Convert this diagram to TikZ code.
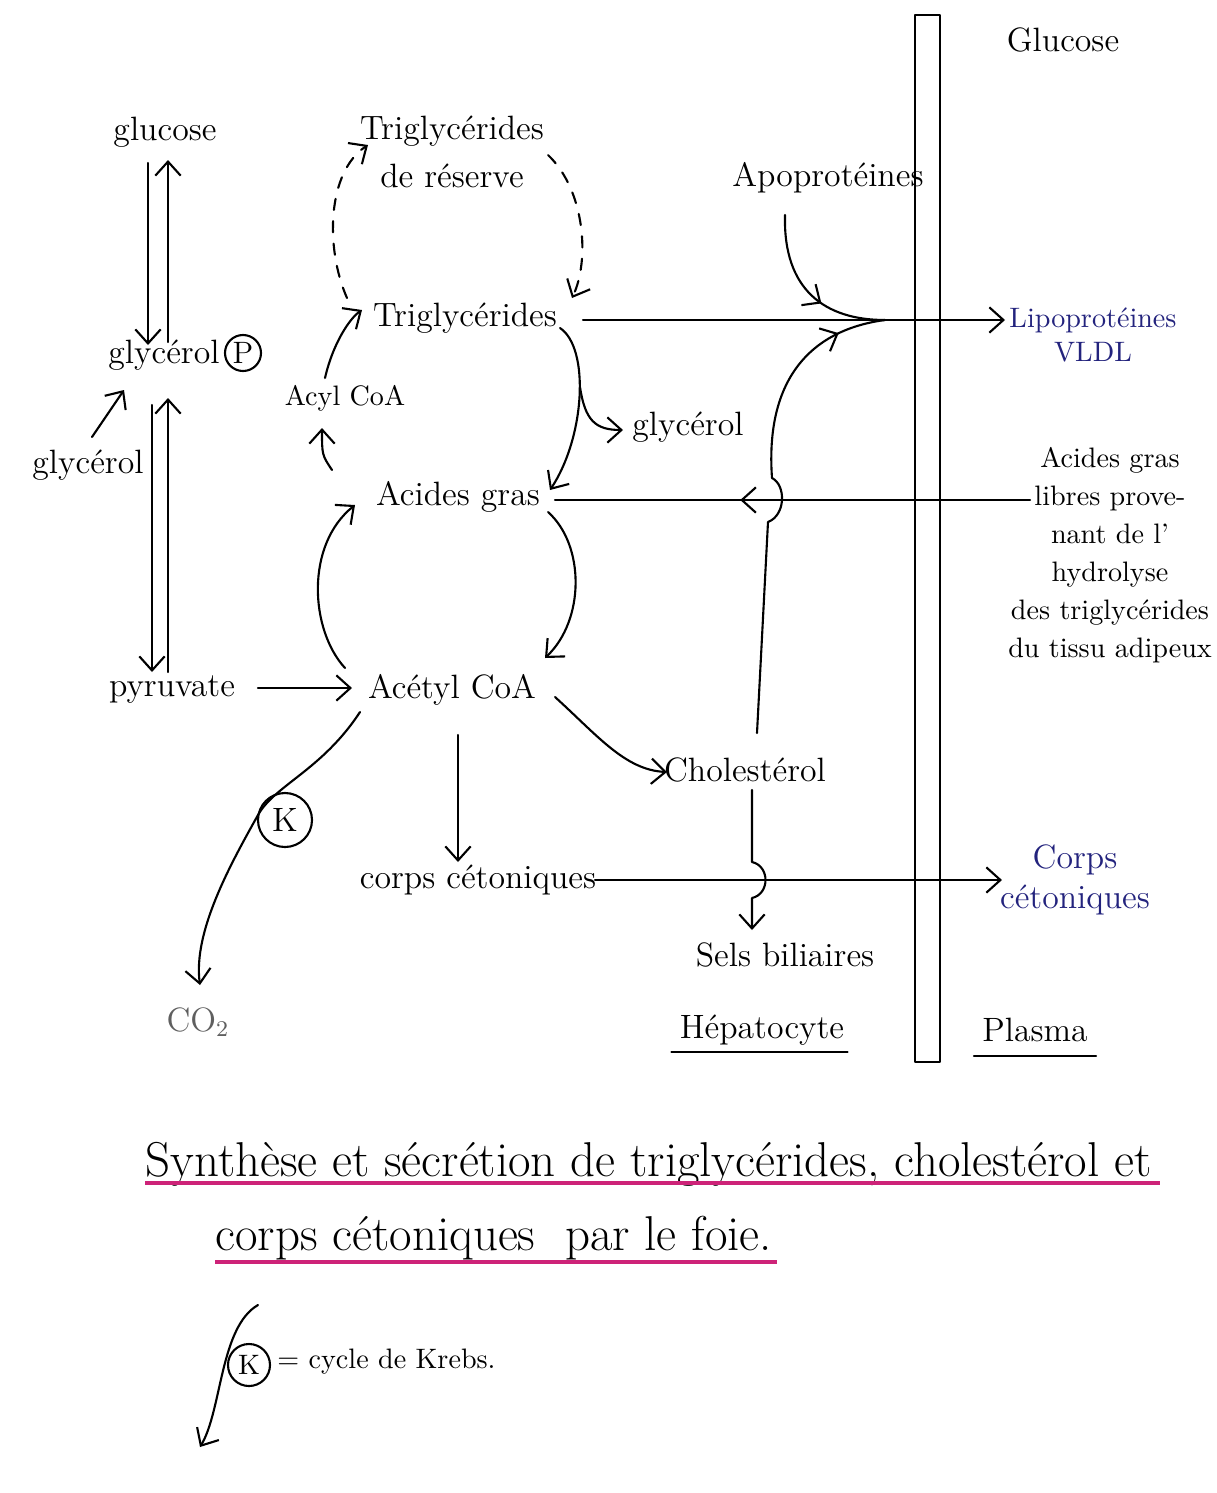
\documentclass[tikz,border=0pt]{standalone}
\usepackage{fontspec}
\usetikzlibrary{arrows.meta,calc,decorations.markings}
\definecolor{inkblue}{RGB}{35,35,125}
\definecolor{pencil}{RGB}{95,95,95}
\definecolor{marker}{RGB}{205,35,120}
\tikzset{
  ink/.style={line width=0.75pt, line cap=round, line join=round},
  arr/.style={ink, -{Straight Barb[length=5pt,width=9pt]}},
  lbl/.style={inner sep=1pt, font=\fontsize{12}{14}\selectfont},
  small/.style={inner sep=1pt, font=\fontsize{10}{12}\selectfont},
  titletext/.style={inner sep=0pt, font=\fontsize{17.4}{19}\selectfont},
  circ/.style={draw, circle, ink, inner sep=0pt},
  dashlink/.style={arr, dash pattern=on 4pt off 4pt},
  midarrow/.style={postaction={decorate}, decoration={markings,
      mark=at position #1 with {\arrow{Straight Barb[length=5pt,width=9pt]}}}}
}
\begin{document}
\begin{tikzpicture}[x=0.0125cm, y=-0.0125cm]
\useasboundingbox (0,0) rectangle (1216,1493);

% membrane between the hepatocyte and the plasma
\draw[ink] (915,15) rectangle (940,1062);

% ---------- hepatocyte ----------
\node[lbl] (glu) at (165,132) {glucose};
\node[lbl] (glyP) at (164,355) {glycérol};
\node[circ, minimum size=0.45cm, font=\fontsize{11}{12}\selectfont] (P) at (243,353) {P};
\node[lbl] (glyL) at (88,465) {glycérol};
\node[lbl] (pyr) at (172,690) {pyruvate};
\node[lbl, align=center, font=\fontsize{12}{17}\selectfont] (tgr) at (452,152) {Triglycérides\\de réserve};
\node[lbl] (tg) at (465,318) {Triglycérides};
\node[small] (acyl) at (345,398) {Acyl CoA};
\node[lbl] (ag) at (458,497) {Acides gras};
\node[lbl] (acoa) at (452,690) {Acétyl CoA};
\node[lbl] (gly2) at (688,427) {glycérol};
\node[lbl] (chol) at (745,770) {Cholestérol};
\node[lbl] (cc) at (478,880) {corps cétoniques};
\node[lbl] (sels) at (785,955) {Sels biliaires};
\node[lbl, text=pencil] (co2) at (198,1022) {CO\textsubscript{2}};
\node[circ, minimum size=0.675cm, font=\fontsize{12}{12}\selectfont] (K) at (285,820) {K};
\node[lbl] (apo) at (828,178) {Apoprotéines};
\node[lbl] (hep) at (762,1030) {Hépatocyte};

% ---------- plasma ----------
\node[lbl] (glu2) at (1063,40) {Glucose};
\node[lbl, text=inkblue, align=center, font=\fontsize{10}{12}\selectfont] (lipo) at (1093,335) {Lipoprotéines\\VLDL};
\node[small, align=center, font=\fontsize{10}{13.5}\selectfont] (agl) at (1110,555)
  {Acides gras\\libres prove-\\nant de l'\\hydrolyse\\des triglycérides\\du tissu adipeux};
\node[lbl, text=inkblue, align=center, font=\fontsize{12}{14}\selectfont] (ccP) at (1075,880) {Corps\\cétoniques};
\node[lbl] (pla) at (1035,1030) {Plasma};
\coordinate (m) at (885,320);

% column headings underlined
\draw[ink] ($(hep.base west)+(-5,14)$) -- ($(hep.base east)+(0,14)$);
\draw[ink] ($(pla.base west)+(-5,14)$) -- ($(pla.base east)+(5,14)$);

% ---------- glycolysis column ----------
\draw[arr] ($(glu)+(-17,31)$) -- ($(glyP)+(-16,-10)$);
\draw[arr] ($(glyP)+(4,-13)$) -- ($(glu)+(3,28)$);
\draw[arr] ($(glyP)+(-12,50)$) -- ($(pyr)+(-20,-18)$);
\draw[arr] ($(pyr)+(-4,-18)$) -- ($(glyP)+(4,43)$);
\draw[arr] ($(glyL)+(4,-28)$) -- ($(glyP)+(-40,35)$);
\draw[arr] ($(pyr)+(86,-2)$) -- ($(acoa)+(-100,-2)$);

% ---------- lipid synthesis ----------
\draw[arr] ($(acoa)+(-107,-22)$) .. controls ($(acoa)+(-142,-60)$) and ($(ag)+(-153,48)$) .. ($(ag)+(-103,8)$);
\draw[arr] ($(ag)+(90,15)$) .. controls ($(ag)+(127,48)$) and ($(acoa)+(133,-70)$) .. ($(acoa)+(93,-32)$);
\draw[arr] ($(ag)+(-126,-27)$) .. controls ($(ag)+(-136,-42)$) .. ($(acyl)+(-23,30)$);
\draw[arr] ($(acyl)+(-20,-20)$) .. controls ($(acyl)+(-12,-55)$) and ($(tg)+(-115,0)$) .. ($(tg)+(-103,-8)$);
\draw[arr] ($(tg)+(95,10)$) .. controls ($(tg)+(125,30)$) and ($(ag)+(127,-60)$) .. ($(ag)+(92,-7)$);
\draw[arr] ($(tg)+(115,69)$) .. controls ($(tg)+(120,102)$) and ($(tg)+(130,112)$) .. ($(gly2)+(-65,3)$);

% storage triglycerides
\draw[dashlink] ($(tg)+(-118,-20)$) .. controls ($(tg)+(-140,-70)$) and ($(tgr)+(-125,20)$) .. ($(tgr)+(-84,-7)$);
\draw[dashlink] ($(tgr)+(96,3)$) .. controls ($(tgr)+(133,38)$) and ($(tg)+(125,-58)$) .. ($(tg)+(107,-20)$);

% ---------- VLDL secretion ----------
\draw[arr] ($(tg)+(118,2)$) -- (m) -- ($(lipo)+(-88,-15)$);
\draw[ink, midarrow=0.6] ($(apo)+(-43,37)$) .. controls ($(apo)+(-45,112)$) and ($(m)+(-60,0)$) .. (m);
\draw[ink, midarrow=0.9] ($(chol)+(12,-37)$) -- (768,522)
  .. controls (786,515) and (786,485) .. (772,478)
  .. controls (765,380) and (810,330) .. (m);

% free fatty acids from adipose tissue
\draw[ink, midarrow=0.61] ($(agl)+(-80,-55)$) -- ($(ag)+(97,3)$);

% ---------- acetyl CoA fates ----------
\draw[arr] ($(acoa)+(103,7)$) .. controls ($(acoa)+(145,45)$) and ($(chol)+(-120,0)$) .. ($(chol)+(-78,2)$);
\draw[arr] ($(acoa)+(6,45)$) -- ($(cc)+(-20,-18)$);
\draw[arr] ($(cc)+(117,0)$) -- ($(ccP)+(-73,0)$);
\draw[arr] ($(chol)+(7,20)$) -- ($(chol)+(7,92)$)
  .. controls ($(chol)+(25,96)$) and ($(chol)+(25,124)$) .. ($(chol)+(7,128)$)
  -- ($(sels)+(-33,-25)$);
\draw[arr] ($(acoa)+(-92,22)$) .. controls ($(acoa)+(-130,80)$) and ($(K)+(-10,-35)$) .. ($(K)+(-27,-5)$)
  .. controls ($(K)+(-55,45)$) and ($(co2)+(-5,-90)$) .. ($(co2)+(2,-37)$);

% ---------- caption ----------
\node[titletext, anchor=base west] (t1) at (145,1176) {Synthèse et sécrétion de triglycérides, cholestérol et};
\node[titletext, anchor=base west] (t2) at (215,1250) {corps cétoniques \ par le foie.};
\draw[marker, line width=1.1pt] ($(t1.base west)+(0,7)$) -- ($(t1.base east)+(8,7)$);
\draw[marker, line width=1.1pt] ($(t2.base west)+(0,12)$) -- ($(t2.base east)+(5,12)$);

% legend
\node[circ, minimum size=0.525cm, font=\fontsize{10}{10}\selectfont] (Kl) at (249,1365) {K};
\node[small, anchor=west] (krebs) at (274,1362) {= cycle de Krebs.};
\draw[arr] ($(Kl)+(9,-60)$) .. controls ($(Kl)+(-29,-38)$) and ($(Kl)+(-27,45)$) .. ($(Kl)+(-49,82)$);
\end{tikzpicture}
\end{document}
